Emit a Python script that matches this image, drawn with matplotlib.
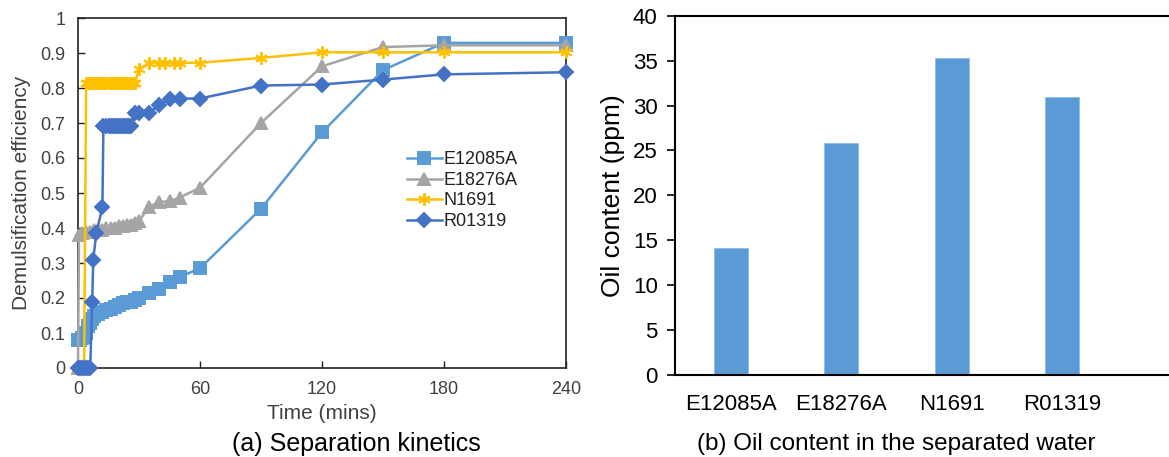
import numpy as np
import matplotlib
matplotlib.use("Agg")
import matplotlib.pyplot as plt

plt.rcParams["font.family"] = ["Liberation Sans", "DejaVu Sans"]

# ---- (a) separation kinetics: time (min) and demulsification efficiency ----
t_e12085a = [0, 1, 2, 3, 4, 5, 6, 7, 8, 10, 12, 14, 16, 18, 20, 22, 24, 26, 28,
             30, 35, 40, 45, 50, 60, 90, 120, 150, 180, 240]
y_e12085a = [0.08, 0.08, 0.085, 0.09, 0.10, 0.12, 0.13, 0.14, 0.15, 0.155, 0.16,
             0.165, 0.17, 0.175, 0.18, 0.185, 0.19, 0.19, 0.195, 0.20, 0.215,
             0.225, 0.245, 0.26, 0.285, 0.455, 0.673, 0.851, 0.929, 0.929]

t_e18276a = [0, 0.5, 2, 4, 6, 8, 10, 12, 14, 16, 18, 20, 22, 24, 26, 28, 30,
             35, 40, 45, 50, 60, 90, 120, 150, 180, 240]
y_e18276a = [0.0, 0.38, 0.385, 0.39, 0.39, 0.395, 0.395, 0.395, 0.40, 0.40,
             0.40, 0.405, 0.405, 0.41, 0.41, 0.415, 0.42, 0.46, 0.475, 0.476,
             0.487, 0.515, 0.70, 0.862, 0.917, 0.922, 0.922]

t_n1691 = [0, 1, 2, 3, 4, 5, 6, 7, 8, 9, 10, 11, 12, 13, 14, 15, 16, 17, 18, 19,
           20, 21, 22, 23, 24, 25, 26, 27, 28, 30, 35, 40, 43, 47, 50, 60, 90,
           120, 150, 180, 240]
y_n1691 = [0, 0, 0, 0] + [0.815] * 25 + [0.853, 0.872, 0.872, 0.872, 0.872,
                                         0.872, 0.872, 0.886, 0.902, 0.902,
                                         0.902, 0.902]

t_r01319 = [0, 1, 2, 3, 4, 5, 6, 7, 7.5, 9, 12, 12.5, 14, 15, 16, 17, 18, 19,
            20, 21, 22, 23, 24, 25, 26, 28, 30, 35, 40, 45, 50, 60, 90, 120,
            150, 180, 240]
y_r01319 = [0, 0, 0, 0, 0, 0, 0, 0.19, 0.31, 0.385, 0.46] + [0.692] * 14 + \
           [0.73, 0.73, 0.73, 0.752, 0.77, 0.77, 0.77, 0.807, 0.81, 0.824,
            0.839, 0.845]

# ---- (b) oil content in separated water ----
samples = ["E12085A", "E18276A", "N1691", "R01319"]
oil_ppm = [14.1, 25.8, 35.25, 31.0]

COLORS = {"E12085A": "#5B9BD5", "E18276A": "#A5A5A5",
          "N1691": "#FFC000", "R01319": "#4472C4"}
TXT = "#404040"

W, H = 1169, 457
fig = plt.figure(figsize=(W / 100, H / 100), dpi=100)

# left panel
ax = fig.add_axes([78 / W, (H - 368) / H, 488 / W, 350 / H])
series = [
    ("E12085A", t_e12085a, y_e12085a, "s", 8),
    ("E18276A", t_e18276a, y_e18276a, "^", 8.5),
    ("N1691", t_n1691, y_n1691, (6, 2, 0), 9),
    ("R01319", t_r01319, y_r01319, "D", 7.5),
]
for name, t, y, mk, ms in series:
    c = COLORS[name]
    ax.plot(t, y, color=c, lw=1.8, marker=mk, ms=ms, mfc=c, mec=c,
            mew=1.4, label=name, clip_on=False, zorder=3)
ax.set_xlim(0, 240)
ax.set_ylim(0, 1)
ax.set_xticks([0, 60, 120, 180, 240])
ax.set_yticks(np.arange(0, 1.01, 0.1))
ax.set_yticklabels(["0", "0.1", "0.2", "0.3", "0.4", "0.5", "0.6", "0.7",
                    "0.8", "0.9", "1"])
ax.tick_params(direction="in", length=5, width=1, labelsize=13,
               labelcolor=TXT, color="#222222")
ax.tick_params(axis="y", pad=9)
ax.tick_params(axis="x", pad=9)
for s in ax.spines.values():
    s.set_color("#222222")
    s.set_linewidth(1.2)
ax.set_xlabel("Time (mins)", fontsize=15, color=TXT)
ax.xaxis.label.set_va("center")
ax.xaxis.set_label_coords(0.5, -0.131)
ax.set_ylabel("Demulsification efficiency", fontsize=15, color=TXT)
ax.yaxis.label.set_va("center")
ax.yaxis.set_label_coords(-0.115, 0.5)
ax.legend(loc="upper left", bbox_to_anchor=(0.66, 0.64), frameon=False,
          fontsize=13, handlelength=1.9, handletextpad=0.1, labelspacing=0.2,
          borderaxespad=0, labelcolor="#222222")

# right panel
bx = fig.add_axes([675 / W, (H - 375) / H, 494 / W, 359.3 / H])
bx.bar(range(len(samples)), oil_ppm, width=0.305, color="#5B9BD5",
       edgecolor="#8FBCE6", linewidth=0.6)
bx.set_xlim(-0.505, 3.966)
bx.set_ylim(0, 40)
bx.set_yticks(range(0, 41, 5))
bx.set_xticks(range(len(samples)))
bx.set_xticklabels(samples)
bx.tick_params(axis="y", direction="out", length=5.5, width=1.2,
               labelsize=16, pad=7)
bx.tick_params(axis="x", length=0, labelsize=16, pad=14)
bx.spines["right"].set_visible(False)
for k in ["left", "top", "bottom"]:
    bx.spines[k].set_linewidth(1.5)
    bx.spines[k].set_color("black")
bx.set_ylabel("Oil content (ppm)", fontsize=19)
bx.yaxis.label.set_va("center")
bx.yaxis.set_label_coords(-0.1255, 0.5)

fig.text(356 / W, 1 - 444 / H, "(a) Separation kinetics", fontsize=18,
         ha="center", va="center")
fig.text(896 / W, 1 - 444 / H, "(b) Oil content in the separated water",
         fontsize=17.5, ha="center", va="center")

fig.savefig("out.png", dpi=100)
